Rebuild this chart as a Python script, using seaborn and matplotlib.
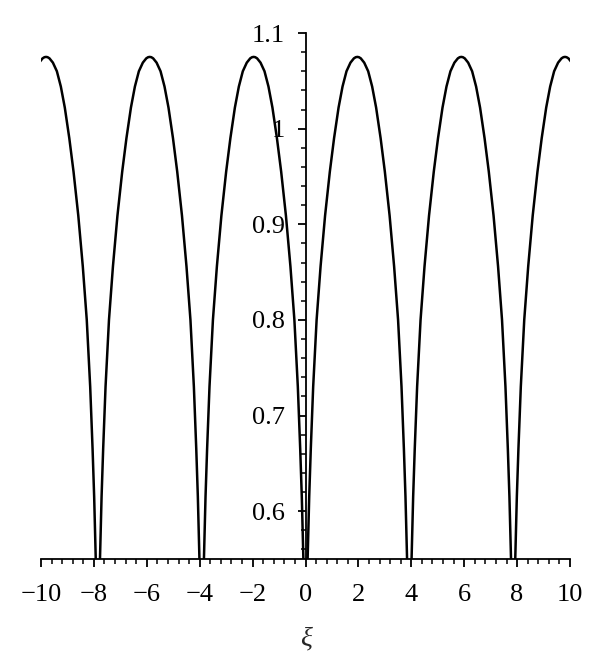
import matplotlib
matplotlib.use("Agg")
import matplotlib.pyplot as plt
import numpy as np
import pandas as pd
import seaborn as sns
from matplotlib.ticker import MultipleLocator, FixedLocator, FixedFormatter

# centres of the arches (peaks)
arch_centers = [-9.81, -5.89, -1.96, 1.96, 5.89, 9.81]
arch_half_width = 1.96

# half-arch profile: distance from the dip -> value
dip_dist = [0.0, 0.08, 0.14, 0.20, 0.29, 0.42, 0.57, 0.74, 0.92, 1.08, 1.25, 1.40, 1.55, 1.70, 1.83, 1.90, 1.96]
arch_y = [0.40, 0.55, 0.615, 0.665, 0.730, 0.800, 0.856, 0.909, 0.955, 0.990, 1.022, 1.044,
          1.060, 1.069, 1.0735, 1.0747, 1.075]

x_ticks = [-10, -8, -6, -4, -2, 0, 2, 4, 6, 8, 10]
y_ticks = [0.6, 0.7, 0.8, 0.9, 1.0, 1.1]
y_tick_labels = ["0.6", "0.7", "0.8", "0.9", "1", "1.1"]


def build_curve() -> pd.DataFrame:
    xs, ys = [], []
    d = np.array(dip_dist)
    v = np.array(arch_y)
    for c in arch_centers:
        xs.extend(c - arch_half_width + d)
        ys.extend(v)
        xs.extend((c + arch_half_width - d)[::-1][1:])
        ys.extend(v[::-1][1:])
    return pd.DataFrame({"xi": xs, "value": ys})


sns.set_theme(style="ticks")
plt.rcParams["font.family"] = ["Liberation Serif", "DejaVu Serif"]
plt.rcParams["axes.unicode_minus"] = True

curve = build_curve()

fig = plt.figure(figsize=(6.0, 6.58), dpi=100)
ax = fig.add_axes([41 / 600, 99 / 658, 529 / 600, 526 / 658])

sns.lineplot(data=curve, x="xi", y="value", sort=False, estimator=None,
             color="black", linewidth=1.8, ax=ax)

ax.set_xlim(-10, 10)
ax.set_ylim(0.55, 1.1)

ax.spines["top"].set_visible(False)
ax.spines["right"].set_visible(False)
ax.spines["left"].set_position(("data", 0))
for side in ("left", "bottom"):
    ax.spines[side].set_linewidth(1.3)
    ax.spines[side].set_color("black")

ax.xaxis.set_major_locator(FixedLocator(x_ticks))
ax.xaxis.set_minor_locator(MultipleLocator(0.4))
ax.yaxis.set_major_locator(FixedLocator(y_ticks))
ax.yaxis.set_major_formatter(FixedFormatter(y_tick_labels))
ax.yaxis.set_minor_locator(MultipleLocator(0.02))

ax.tick_params(axis="both", which="major", direction="out", length=6, width=1.3,
               labelsize=19, color="black", labelcolor="black")
ax.tick_params(axis="both", which="minor", direction="out", length=3.5, width=1.1, color="black")
ax.tick_params(axis="x", which="major", pad=12)
ax.tick_params(axis="y", which="major", pad=9)

ax.set_xlabel("ξ", fontsize=20, fontstyle="italic", labelpad=15)
ax.set_ylabel("")

fig.savefig("out.png", dpi=100)
plt.close(fig)
